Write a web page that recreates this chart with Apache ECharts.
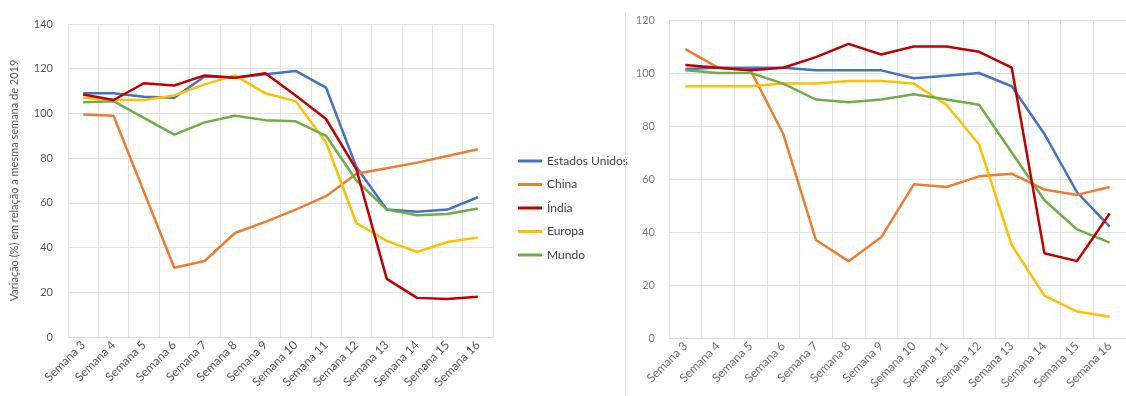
<!DOCTYPE html>
<html>
<head>
<meta charset="utf-8">
<script src="https://cdn.jsdelivr.net/npm/echarts@6/dist/echarts.min.js"></script>
<style>
html,body{margin:0;padding:0;background:#fff;}
#chart{width:1126px;height:396px;}
</style>
</head>
<body>
<div id="chart"></div>
<script>
const categories = ['Semana 3','Semana 4','Semana 5','Semana 6','Semana 7','Semana 8','Semana 9','Semana 10','Semana 11','Semana 12','Semana 13','Semana 14','Semana 15','Semana 16'];
const seriesNames = ['Estados Unidos','China','Índia','Europa','Mundo'];
const colors = ['#4472C4','#ED7D31','#C00000','#FFC000','#70AD47'];

// Left chart
const leftEUA    = [109, 109, 107.5, 107, 116.5, 116, 117.5, 119, 111.5, 76, 57, 56, 57, 62.5];
const leftChina  = [99.5, 99, 65, 31, 34, 46.5, 51.5, 57, 63, 73, 75.5, 78, 81, 84];
const leftIndia  = [108.5, 106, 113.5, 112.5, 117, 116, 118, 108, 97.5, 75, 26, 17.5, 17, 18];
const leftEuropa = [107, 106, 106, 108, 113, 117, 109, 105.5, 87, 51, 43, 38, 42.5, 44.5];
const leftMundo  = [105, 105.5, 98, 90.5, 96, 99, 97, 96.5, 90, 70, 57, 54.5, 55, 57.5];

// Right chart
const rightEUA    = [101.5, 102, 102, 102, 101, 101, 101, 98, 99, 100, 95, 77, 55, 42];
const rightChina  = [109, 102, 101, 77, 37, 29, 38, 58, 57, 61, 62, 56, 54, 57];
const rightIndia  = [103, 102, 101, 102, 106, 111, 107, 110, 110, 108, 102, 32, 29, 47];
const rightEuropa = [95, 95, 95, 96, 96, 97, 97, 96, 88, 73, 35, 16, 10, 8];
const rightMundo  = [101, 100, 100, 96, 90, 89, 90, 92, 90, 88, 70, 52, 41, 36];

const leftTicks = {min: 0, max: 140, interval: 20};
const rightTicks = {min: 0, max: 120, interval: 20};
const yTitle = 'Variação (%) em relação a mesma semana de 2019';

const leftData = [leftEUA, leftChina, leftIndia, leftEuropa, leftMundo];
const rightData = [rightEUA, rightChina, rightIndia, rightEuropa, rightMundo];

const font = 'Lato, "Open Sans", sans-serif';
const gridLine = {show: true, lineStyle: {color: '#e3e3e3', width: 1}};

function xAxis(idx, labelColor) {
  return {
    type: 'category', gridIndex: idx, data: categories, boundaryGap: true,
    axisLine: {show: true, lineStyle: {color: '#dcdcdc'}},
    axisTick: {show: false},
    splitLine: gridLine,
    axisLabel: {rotate: 45, fontSize: 12, color: labelColor, fontFamily: font, margin: 6, interval: 0}
  };
}

const series = [];
leftData.forEach((d, i) => series.push({
  name: seriesNames[i], type: 'line', xAxisIndex: 0, yAxisIndex: 0, data: d,
  showSymbol: false, symbol: 'none', lineStyle: {width: 2.5, color: colors[i]}, itemStyle: {color: colors[i]}, z: i === 2 ? 5 : 3
}));
rightData.forEach((d, i) => series.push({
  name: seriesNames[i], type: 'line', xAxisIndex: 1, yAxisIndex: 1, data: d,
  showSymbol: false, symbol: 'none', lineStyle: {width: 2.5, color: colors[i]}, itemStyle: {color: colors[i]}, z: i === 2 ? 5 : 3
}));

const chart = echarts.init(document.getElementById('chart'));
chart.setOption({
  animation: false,
  backgroundColor: '#ffffff',
  textStyle: {fontFamily: font},
  grid: [
    {left: 68, right: 633, top: 24, bottom: 59},
    {left: 669, right: -6, top: 20, bottom: 58}
  ],
  xAxis: [xAxis(0, '#595959'), xAxis(1, '#6f6f6f')],
  yAxis: [
    {type: 'value', gridIndex: 0, min: leftTicks.min, max: leftTicks.max, interval: leftTicks.interval,
     axisLine: {show: false}, axisTick: {show: false}, splitLine: gridLine,
     axisLabel: {fontSize: 11, color: '#595959', fontFamily: font, margin: 15},
     name: yTitle, nameLocation: 'middle', nameRotate: 90, nameGap: 48,
     nameTextStyle: {fontSize: 11, color: '#595959', fontFamily: font}},
    {type: 'value', gridIndex: 1, min: rightTicks.min, max: rightTicks.max, interval: rightTicks.interval,
     axisLine: {show: false}, axisTick: {show: false}, splitLine: gridLine,
     axisLabel: {fontSize: 11, color: '#7a7a7a', fontFamily: font, margin: 14}}
  ],
  legend: {
    orient: 'vertical', left: 513, top: 149, data: seriesNames,
    icon: 'rect', itemWidth: 24, itemHeight: 3, itemGap: 9.5,
    textStyle: {fontSize: 12, color: '#404040', fontFamily: font, lineHeight: 14}
  },
  graphic: [{
    type: 'line', shape: {x1: 625.5, y1: 12, x2: 625.5, y2: 396},
    style: {stroke: '#e0e0e0', lineWidth: 1}, z: 10
  }],
  series: series
});
</script>
</body>
</html>
